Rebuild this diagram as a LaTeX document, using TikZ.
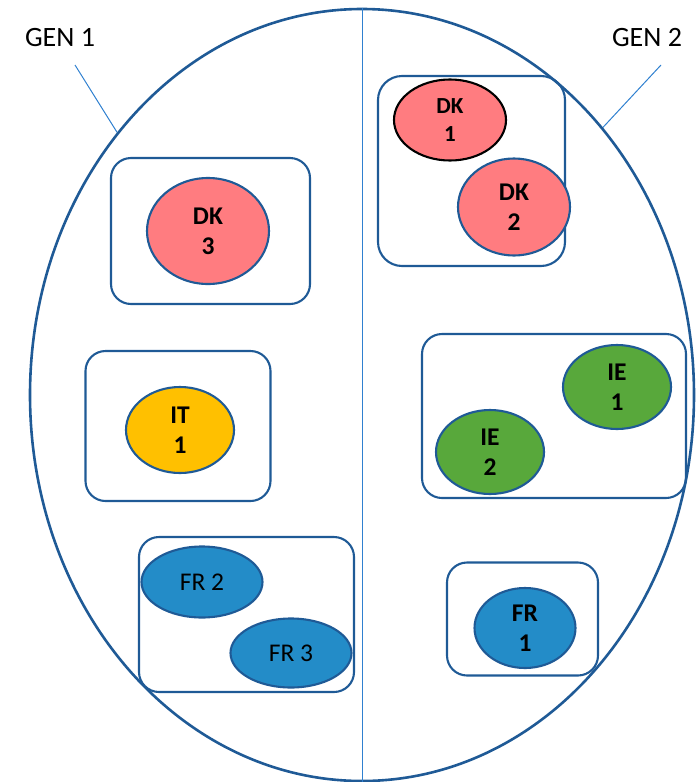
\documentclass[tikz,border=0pt]{standalone}
\usepackage{fontspec}
\setmainfont{Carlito}
\usetikzlibrary{shapes.geometric}
\definecolor{edgeblue}{HTML}{1F5A96}
\definecolor{lineblue}{HTML}{2F80D0}
\definecolor{dkfill}{HTML}{FF7C80}
\definecolor{itfill}{HTML}{FFC000}
\definecolor{iefill}{HTML}{58A83B}
\definecolor{frfill}{HTML}{238CC8}
\tikzset{
  grp/.style={draw=edgeblue, line width=2.1pt, rounded corners=20pt, rectangle, inner sep=0pt},
  blob/.style={ellipse, draw=edgeblue, line width=2.1pt, inner sep=0pt, align=center,
    font=\fontsize{25.5}{30}\selectfont\bfseries},
  thinline/.style={draw=lineblue, line width=1pt},
  genlabel/.style={font=\fontsize{28}{32}\selectfont, inner sep=0pt}
}
\begin{document}
\begin{tikzpicture}[x=1pt,y=-1pt]
\useasboundingbox (0,0) rectangle (700,782);
% big ellipse
\node[ellipse, draw=edgeblue, line width=2.6pt, minimum width=664pt, minimum height=772pt, inner sep=0pt] (big) at (362,395) {};
\draw[thinline] (big.north) -- (big.south);
% labels
\node[genlabel] (gen1) at (60,38) {GEN 1};
\node[genlabel] (gen2) at (647,38) {GEN 2};
\coordinate (g1s) at (75,65);
\coordinate (g2s) at (661,65);
\draw[thinline] (g1s) -- (big.133.5);
\draw[thinline] (g2s) -- (big.48.6);
% group boxes
\node[grp, minimum width=199pt, minimum height=146pt] (box1) at (210.5,231) {};
\node[grp, minimum width=187pt, minimum height=190pt, rounded corners=24pt] (box2) at (471.5,171) {};
\node[grp, minimum width=185pt, minimum height=150pt] (box3) at (178,426) {};
\node[grp, minimum width=264pt, minimum height=164pt] (box4) at (554,416) {};
\node[grp, minimum width=215pt, minimum height=155pt] (box5) at (246.5,614.5) {};
\node[grp, minimum width=151pt, minimum height=113pt] (box6) at (522.5,619) {};
% blobs
\node[blob, fill=dkfill, minimum width=122pt, minimum height=106pt] (dk3) at (208,231) {DK\\3};
\node[blob, fill=dkfill, draw=black, minimum width=112pt, minimum height=81pt,
  font=\fontsize{23}{28}\selectfont\bfseries] (dk1) at (450,120) {DK\\1};
\node[blob, fill=dkfill, minimum width=112pt, minimum height=97pt] (dk2) at (514,207) {DK\\2};
\node[blob, fill=itfill, minimum width=108pt, minimum height=86pt] (it1) at (180,430) {IT\\1};
\node[blob, fill=iefill, minimum width=108pt, minimum height=84pt] (ie1) at (617,387) {IE\\1};
\node[blob, fill=iefill, minimum width=108pt, minimum height=84pt] (ie2) at (490,452) {IE\\2};
\node[blob, fill=frfill, minimum width=121pt, minimum height=71pt, font=\fontsize{25.5}{30}\selectfont] (fr2) at (202,582) {FR 2};
\node[blob, fill=frfill, minimum width=121pt, minimum height=69pt, font=\fontsize{25.5}{30}\selectfont] (fr3) at (291,653) {FR 3};
\node[blob, fill=frfill, minimum width=101pt, minimum height=80pt] (fr1) at (525,628) {FR\\1};
\end{tikzpicture}
\end{document}
